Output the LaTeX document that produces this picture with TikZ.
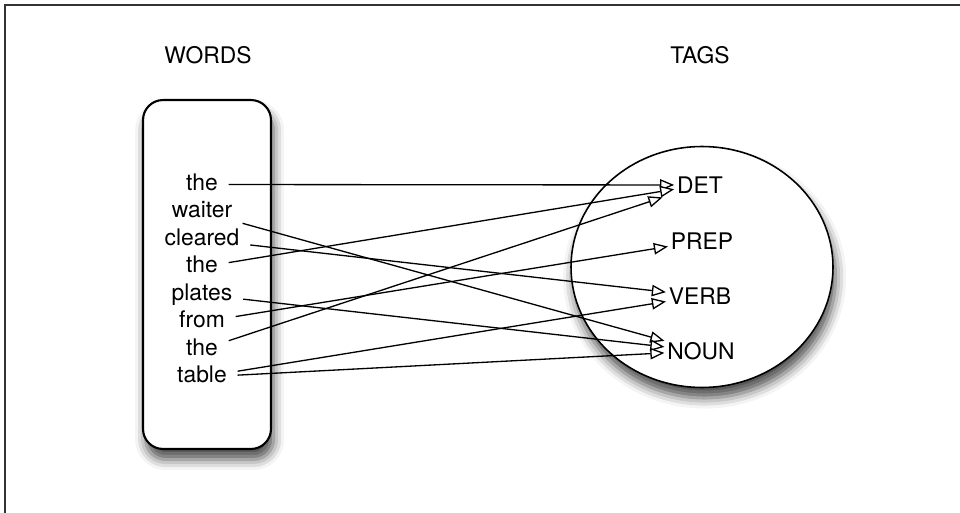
\documentclass[tikz,border=0pt]{standalone}
\usepackage{fontspec}
\setmainfont{TeX Gyre Heros}
\usetikzlibrary{arrows.meta, shapes.geometric, shadows.blur}

\tikzset{
  txt/.style={font=\fontsize{13}{15}\selectfont},
  word/.style={txt, text height=1.6ex, text depth=0.4ex, inner xsep=6pt, inner ysep=1pt},
  tag/.style={txt, inner sep=1.5pt},
  link/.style={line width=0.75pt, -{Triangle[fill=white, length=8pt, width=6.5pt]}},
  softshadow/.style={blur shadow={shadow xshift=1.5pt, shadow yshift=-6pt, shadow blur radius=6pt, shadow opacity=70}}
}

\begin{document}
\begin{tikzpicture}[x=0.02cm, y=-0.02cm]
		\useasboundingbox (0,0) rectangle (960,513);
		\draw[line width=0.6pt, black!80] (5,513) -- (5,5) -- (960,5);
		%
		% headings
		\node[txt] (wordshead) at (208,55) {WORDS};
		\node[txt] (tagshead) at (700,55) {TAGS};
		%
		% the two containers
		\node[draw, line width=1.2pt, rounded corners=0.4cm, fill=white, softshadow,
		      minimum width=2.56cm, minimum height=6.98cm] (wordbox) at (207,274.5) {};
		\node[ellipse, draw, line width=0.9pt, fill=white, softshadow,
		      minimum width=5.24cm, minimum height=4.82cm] (tagset) at (702,267) {};
		%
		% words of the sentence
		\foreach \w/\name [count=\i] in {the/w1, waiter/w2, cleared/w3, the/w4, plates/w5, from/w6, the/w7, table/w8}{
			\node[word] (\name) at (202,{157+27.5*\i}) {\w};
		}
		%
		% tags
		\node[tag] (det) at (700,185) {DET};
		\node[tag] (prep) at (702,241) {PREP};
		\node[tag] (verb) at (700,296) {VERB};
		\node[tag] (noun) at (701,351) {NOUN};
		%
		% word -> tag
		\draw[link] (w1) -- (det);
		\draw[link] (w2) -- (noun);
		\draw[link] (w3) -- (verb);
		\draw[link] (w4) -- (det);
		\draw[link] (w5) -- (noun);
		\draw[link] (w6) -- (prep);
		\draw[link, shorten >=7pt] (w7) -- (det);
		\draw[link] (w8) -- (verb);
		\draw[link] (w8) -- (noun);
\end{tikzpicture}
\end{document}
